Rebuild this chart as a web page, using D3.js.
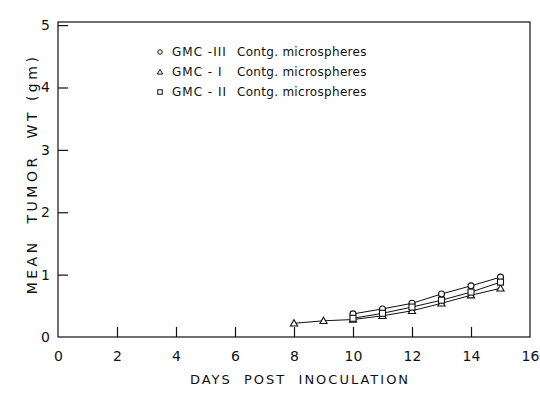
<!DOCTYPE html>
<html><head><meta charset="utf-8">
<script src="https://cdn.jsdelivr.net/npm/d3@7"></script>
<style>body{margin:0;background:#fff}svg{display:block}text{white-space:pre}</style>
</head><body>
<svg id="c" width="540" height="404"></svg>
<script>
const xTicks = [0,2,4,6,8,10,12,14,16];
const yTicks = [0,1,2,3,4,5];
const daysIII = [10,11,12,13,14,15];
const gmcIII  = [0.37,0.45,0.54,0.69,0.82,0.96];
const daysII  = [10,11,12,13,14,15];
const gmcII   = [0.30,0.38,0.48,0.59,0.72,0.88];
const daysI   = [8,9,10,11,12,13,14,15];
const gmcI    = [0.22,0.26,0.28,0.34,0.42,0.54,0.67,0.78];
const legendNames = ["GMC -III","GMC - I","GMC - II"];
const legendSuffix = "Contg. microspheres";

const svg = d3.select("#c");
const x = d3.scaleLinear().domain([0,16]).range([58,530]);
const y = d3.scaleLinear().domain([0,5.05]).range([337,22]);
const ink = "#111";
const font = "'DejaVu Sans', sans-serif";

// frame
svg.append("rect").attr("x",58).attr("y",22).attr("width",472).attr("height",315)
  .attr("fill","none").attr("stroke",ink).attr("stroke-width",1.2);

// axes with inward ticks
const xa = svg.append("g").attr("transform","translate(0,337)")
  .call(d3.axisBottom(x).tickValues(xTicks).tickSize(-10).tickPadding(14).tickFormat(d3.format("d")));
const ya = svg.append("g").attr("transform","translate(58,0)")
  .call(d3.axisLeft(y).tickValues(yTicks).tickSize(-10).tickPadding(8).tickFormat(d3.format("d")));
[xa,ya].forEach(g=>{
  g.select(".domain").remove();
  g.selectAll("line").attr("stroke",ink).attr("stroke-width",1.2);
  g.selectAll("text").attr("fill",ink).style("font-family",font).style("font-size","14px");
});
xa.selectAll(".tick").filter(d=>d===0||d===16).select("line").remove();
ya.selectAll(".tick").filter(d=>d===0).select("line").remove();

// titles
svg.append("text").attr("x",300).attr("y",384).attr("text-anchor","middle")
  .style("font-family",font).style("font-size","13px").style("letter-spacing","2px")
  .attr("fill",ink).text("DAYS  POST  INOCULATION");
svg.append("text").attr("transform","translate(37,174) rotate(-90)").attr("text-anchor","middle")
  .style("font-family",font).style("font-size","14px").style("letter-spacing","3.5px")
  .attr("fill",ink).text("MEAN  TUMOR  WT (gm)");

const line = d3.line().x(d=>x(d[0])).y(d=>y(d[1]));
const series = [
  {days:daysIII, vals:gmcIII, sym:"circle"},
  {days:daysI, vals:gmcI, sym:"triangle"},
  {days:daysII, vals:gmcII, sym:"square"}
];
function drawSym(g, sym, cx, cy, s){
  if(sym==="circle") g.append("circle").attr("cx",cx).attr("cy",cy).attr("r",s*0.5);
  else if(sym==="triangle") g.append("path").attr("d",`M${cx},${cy-s*0.6}L${cx+s*0.6},${cy+s*0.45}L${cx-s*0.6},${cy+s*0.45}Z`);
  else g.append("rect").attr("x",cx-s*0.5).attr("y",cy-s*0.5).attr("width",s).attr("height",s);
}
series.forEach(s=>{
  const pts = s.days.map((d,i)=>[d,s.vals[i]]);
  svg.append("path").datum(pts).attr("d",line).attr("fill","none").attr("stroke",ink).attr("stroke-width",1);
  const g = svg.append("g").attr("fill","#fff").attr("stroke",ink).attr("stroke-width",1.1);
  pts.forEach(p=>drawSym(g,s.sym,x(p[0]),y(p[1]),6));
});

// legend
const lg = svg.append("g");
legendNames.forEach((t,i)=>{
  const yy = 52 + i*20;
  const g = lg.append("g").attr("fill","#fff").attr("stroke",ink).attr("stroke-width",1);
  drawSym(g, series[i].sym, 160, yy, 4.5);
  lg.append("text").attr("x",172).attr("y",yy+4).attr("fill",ink)
    .style("font-family",font).style("font-size","12px").style("letter-spacing","1px").text(t);
  lg.append("text").attr("x",237).attr("y",yy+4).attr("fill",ink)
    .style("font-family",font).style("font-size","12px").style("letter-spacing","0.3px").text(legendSuffix);
});
</script>
</body></html>
